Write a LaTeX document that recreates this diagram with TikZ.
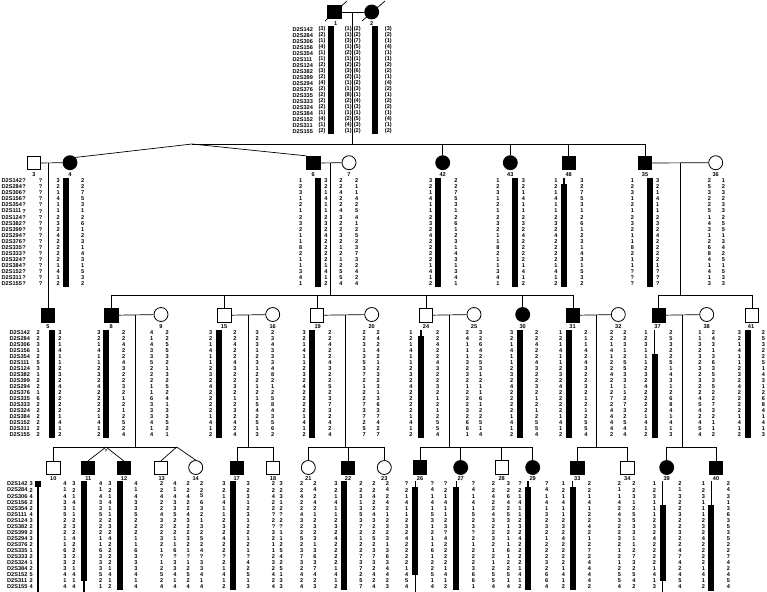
\documentclass[tikz,border=0pt]{standalone}
\usepackage{fontspec}
\setmainfont{Liberation Sans}
\tikzset{
 dat/.style={font=\bfseries\fontsize{5.6}{5.6}\selectfont, inner sep=0pt},
 mk/.style={dat, anchor=west},
 lab/.style={dat},
 sym/.style={draw, line width=0.8pt, inner sep=0pt, fill=white},
 sq/.style={sym, rectangle, minimum size=13.5pt},
 ci/.style={sym, circle, minimum size=14pt},
 aff/.style={fill=black},
 ln/.style={line width=0.7pt},
 thn/.style={line width=1.5pt},
}
\newcommand\Mcol[3]{\foreach \v [count=\i] in {D2S142,D2S284,D2S306,D2S156,D2S354,D2S111,D2S124,D2S382,D2S399,D2S294,D2S376,D2S335,D2S333,D2S324,D2S384,D2S152,D2S311,D2S155}{\node[mk] (#1-\i) at (#2,{#3+(\i-1)*\rs}) {\v};}}
\newcommand\Hcol[4]{\foreach \v [count=\i] in {#4}{\node[dat] (#1-\i) at (#2,{#3+(\i-1)*\rs}) {\v};}}
\newcommand\Pcol[4]{\foreach \v [count=\i] in {#4}{\node[dat] (#1-\i) at (#2,{#3+(\i-1)*\rs}) {(\v)};}}
\newcommand\Bk[4]{\fill ({#1-3},{#2+(#3-1)*\rs-3}) rectangle ({#1+3},{#2+(#4-1)*\rs+3});}
\newcommand\Bt[4]{\draw[thn] (#1,{#2+(#3-1)*\rs-3}) -- (#1,{#2+(#4-1)*\rs+3});}
\newcommand\Drop[3]{\coordinate (#1) at (#2); \draw[ln] (#1) -- (#3.north);}
\begin{document}
\begin{tikzpicture}[x=1pt,y=-1pt]
\useasboundingbox (0,0) rectangle (767,591);
% ================= Generation I =================
\def\rs{6}
\node[sq,aff] (n1) at (334.3,12) {};
\node[ci,aff] (n2) at (371.7,12) {};
\draw[ln] (325,21) -- (347,1);
\draw[ln] (362,21) -- (385,1);
\node[lab] (l1) at (335.7,23.6) {1};
\node[lab] (l2) at (371.7,23.6) {2};
\draw[ln] (n1) -- (n2);
\coordinate (d12) at (352.7,12);
\coordinate (s2m) at (352.7,144);
\draw[ln] (d12) -- (s2m);
\Mcol{m1}{292.5}{29.3}
\Pcol{f1a}{322}{29.3}{3,2,1,4,1,1,2,3,2,4,2,2,2,2,1,4,1,2}
\Bk{330.7}{29.3}{1}{18}
\Pcol{f1b}{348.2}{29.3}{1,1,3,1,2,1,2,3,2,1,1,8,2,1,1,2,4,1}
\Pcol{f2a}{357.3}{29.3}{2,2,7,5,3,1,2,6,1,2,3,1,4,3,1,5,3,2}
\Bk{375.3}{29.3}{1}{18}
\Pcol{f2b}{388.3}{29.3}{3,2,1,4,1,1,2,2,1,4,2,1,2,2,1,4,1,2}
% ================= Generation II =================
\def\rs{6.07}
\node[sq] (n3) at (34,163) {};
\node[ci,aff] (n4) at (70,162.7) {};
\node[sq,aff] (n6) at (313.3,163) {};
\node[ci] (n7) at (349,162.7) {};
\node[ci,aff] (n42) at (442.7,162.7) {};
\node[ci,aff] (n43) at (510.3,162.7) {};
\node[sq,aff] (n48) at (568.7,163) {};
\node[sq,aff] (n35) at (645,163) {};
\node[ci] (n36) at (715.7,162.7) {};
\foreach \n/\x in {3/34,4/70,6/313.3,7/349,42/442.7,43/510.3,48/568.7,35/645,36/715.7}
  {\node[lab] (l\n) at (\x,174.8) {\n};}
\coordinate (apx) at (192,144);
\coordinate (s2R) at (645,144);
\draw[ln] (apx) -- (s2R);
\draw[ln] (apx) -- (n4.north east);
\draw[ln] (apx) -- (n6.north west);
\Drop{v42}{442.7,144}{n42}
\Drop{v43}{510.3,144}{n43}
\Drop{v48}{568.7,144}{n48}
\Drop{v35}{645,144}{n35}
\draw[ln] (n3) -- (n4);
\draw[ln] (n6) -- (n7);
\draw[ln] (n35) -- (n36);
\Mcol{m2}{1.5}{180.7}
\Hcol{h3a}{24}{180.7}{?,?,?,?,?,?,?,?,?,?,?,?,?,?,?,?,?,?}
\Hcol{h3b}{40.7}{180.7}{?,?,?,?,?,?,?,?,?,?,?,?,?,?,?,?,?,?}
\Hcol{h4a}{58.3}{180.7}{3,2,1,4,1,1,2,3,2,4,2,2,2,2,1,4,1,2}
\Bk{65.8}{180.7}{1}{18}
\Hcol{h4b}{82.7}{180.7}{2,2,7,5,3,1,2,6,1,2,3,1,4,3,1,5,3,2}
\Hcol{h6a}{300.7}{180.7}{1,2,3,1,2,1,2,3,2,1,1,8,2,1,1,3,4,1}
\Bk{317.7}{180.7}{1}{18}
\Hcol{h6b}{326}{180.7}{3,2,1,4,1,1,2,3,2,4,2,2,2,2,1,4,1,2}
\Hcol{h7a}{341}{180.7}{2,2,4,2,2,4,3,2,2,3,2,1,2,1,2,5,5,4}
\Hcol{h7b}{356.7}{180.7}{2,1,1,4,2,5,4,1,2,5,2,3,7,3,2,4,2,4}
\Hcol{h42a}{430.7}{180.7}{3,2,1,4,1,1,2,3,2,4,2,2,2,2,1,4,1,2}
\Bk{438.3}{180.7}{1}{18}
\Hcol{h42b}{456}{180.7}{2,2,7,5,3,1,2,6,1,2,3,1,4,3,1,3,4,1}
\Hcol{h43a}{498}{180.7}{1,2,3,1,2,1,2,3,2,1,1,8,2,1,1,3,4,1}
\Bk{515.3}{180.7}{1}{18}
\Hcol{h43b}{523.3}{180.7}{3,2,1,4,1,1,2,3,2,4,2,2,2,2,1,4,1,2}
\Hcol{h48a}{556}{180.7}{1,2,1,4,1,1,2,3,2,4,2,2,2,2,1,4,1,2}
\Bt{564.2}{180.7}{1}{1}
\Bk{564.2}{180.7}{2}{18}
\Hcol{h48b}{582}{180.7}{3,2,7,5,3,1,2,6,1,2,3,1,4,3,1,5,3,2}
\Hcol{h35a}{632.3}{180.7}{1,2,3,1,2,1,2,3,2,1,1,8,2,1,1,?,?,?}
\Bk{649.7}{180.7}{1}{18}
\Hcol{h35b}{657.7}{180.7}{3,2,1,4,1,1,2,3,2,4,2,2,2,2,1,?,?,?}
\Hcol{h36a}{709.3}{180.7}{2,5,3,2,2,5,1,4,3,1,2,6,8,4,1,4,1,3}
\Hcol{h36b}{723.3}{180.7}{1,2,3,2,3,3,2,5,5,1,3,4,2,5,1,5,3,3}
% ================= Generation III =================
\def\rs{5.98}
\node[sq,aff] (n5) at (48,315.3) {};
\node[sq,aff] (n8) at (111.3,315.3) {};
\node[ci] (n9) at (161,314.5) {};
\node[sq] (n15) at (224.5,315.3) {};
\node[ci] (n16) at (272.7,314.5) {};
\node[sq] (n19) at (317,315.3) {};
\node[ci] (n20) at (371.7,314.5) {};
\node[sq] (n24) at (426,315.3) {};
\node[ci] (n25) at (474,314.5) {};
\node[ci,aff] (n30) at (522.7,314.5) {};
\node[sq,aff] (n31) at (573,315.3) {};
\node[ci] (n32) at (618.3,314.5) {};
\node[sq,aff] (n37) at (658.7,315.3) {};
\node[ci] (n38) at (706.7,314.5) {};
\node[sq] (n41) at (752,315.3) {};
\foreach \n/\x in {5/48,8/111.3,9/161,15/224,16/272.7,19/317.7,20/371.7,24/426,25/474,30/522.7,31/572.5,32/618.3,37/657.5,38/706.7,41/751}
  {\node[lab] (l\n) at (\x,326.5) {\n};}
\coordinate (d34) at (48,163);
\draw[ln] (d34) -- (n5.north);
\coordinate (d67) at (330.7,163);
\coordinate (s3m) at (330.7,295);
\draw[ln] (d67) -- (s3m);
\coordinate (s3L) at (111.3,295);
\coordinate (s3R) at (573,295);
\draw[ln] (s3L) -- (s3R);
\draw[ln] (s3L) -- (n8.north);
\Drop{v15}{224.5,295}{n15}
\Drop{v19}{317,295}{n19}
\Drop{v24}{426,295}{n24}
\Drop{v30}{522.7,295}{n30}
\draw[ln] (s3R) -- (n31.north);
\coordinate (d3536) at (680.7,163);
\coordinate (s4m) at (680.7,295);
\draw[ln] (d3536) -- (s4m);
\coordinate (s4L) at (658.7,295);
\coordinate (s4R) at (752,295);
\draw[ln] (s4L) -- (s4R);
\draw[ln] (s4L) -- (n37.north);
\draw[ln] (s4R) -- (n41.north);
\draw[ln] (n8) -- (n9);
\draw[ln] (n15) -- (n16);
\draw[ln] (n19) -- (n20);
\draw[ln] (n24) -- (n25);
\draw[ln] (n31) -- (n32);
\draw[ln] (n37) -- (n38);
\Mcol{m3}{9.5}{333}
\Hcol{h5a}{38.3}{333}{2,2,3,1,2,5,3,1,2,2,1,6,2,2,2,2,2,2}
\Bk{52.3}{333}{1}{18}
\Hcol{h5b}{60}{333}{3,2,1,4,1,1,2,3,2,4,2,2,2,2,1,4,1,2}
\Hcol{h8a}{99}{333}{3,2,1,4,1,1,2,3,2,4,2,2,2,2,1,4,1,2}
\Bk{106.2}{333}{1}{18}
\Hcol{h8b}{123.7}{333}{2,2,4,2,2,4,3,2,2,3,2,1,2,1,2,5,2,4}
\Hcol{h9a}{151.7}{333}{4,1,4,3,3,5,2,2,2,1,1,6,3,3,3,4,1,4}
\Hcol{h9b}{167.3}{333}{2,2,5,5,3,2,1,3,2,5,2,4,1,3,3,5,2,1}
\Hcol{h15a}{210.7}{333}{3,2,1,4,1,1,2,3,2,4,2,2,2,2,1,4,1,2}
\Bk{218.5}{333}{1}{18}
\Hcol{h15b}{235}{333}{2,2,4,2,2,4,3,2,2,3,2,1,2,3,2,4,2,4}
\Hcol{h16a}{257.3}{333}{3,2,3,1,2,3,1,2,2,1,2,1,5,4,2,5,1,3}
\Hcol{h16b}{272.7}{333}{2,3,4,3,3,3,4,8,2,1,2,5,8,4,3,5,6,2}
\Hcol{h19a}{304.3}{333}{3,2,1,4,1,1,2,3,2,4,2,2,2,2,1,4,1,2}
\Bk{312.2}{333}{1}{18}
\Hcol{h19b}{330}{333}{2,2,4,2,2,4,3,2,2,5,2,3,7,3,2,4,2,4}
\Hcol{h20a}{364.3}{333}{2,2,3,1,3,5,3,7,2,1,2,2,7,3,7,2,5,7}
\Hcol{h20b}{378.3}{333}{2,4,2,4,2,1,2,3,2,3,1,3,6,3,7,4,2,7}
\Hcol{h24a}{411}{333}{1,2,1,4,1,1,2,3,2,4,2,2,2,2,1,4,1,2}
\Bt{421.2}{333}{1}{1}
\Bk{421.2}{333}{2}{18}
\Hcol{h24b}{437.7}{333}{2,2,4,2,2,4,3,2,2,3,2,1,2,1,2,5,5,4}
\Hcol{h25a}{467.3}{333}{2,4,1,1,1,3,2,3,2,1,2,2,2,3,2,6,6,1}
\Hcol{h25b}{480.7}{333}{3,2,6,4,2,5,3,1,2,1,1,6,1,2,2,5,1,4}
\Hcol{h30a}{511.7}{333}{3,2,1,4,1,1,2,3,2,4,2,2,2,2,1,4,1,2}
\Bk{519.5}{333}{1}{18}
\Hcol{h30b}{536.7}{333}{2,2,4,2,2,4,3,2,2,3,2,1,2,1,2,5,5,4}
\Hcol{h31a}{560.7}{333}{1,2,1,4,1,1,2,3,2,4,2,2,2,2,1,4,1,2}
\Bk{568.5}{333}{1}{18}
\Hcol{h31b}{586}{333}{2,1,1,4,2,4,3,2,2,3,2,1,2,1,2,5,5,4}
\Hcol{h32a}{611.7}{333}{2,2,1,4,1,2,2,4,2,1,2,7,2,4,4,4,4,2}
\Hcol{h32b}{625}{333}{2,2,3,1,2,5,5,3,3,1,1,2,7,3,2,5,4,4}
\Hcol{h37a}{646}{333}{1,2,3,1,1,1,2,3,2,4,2,2,2,2,1,4,1,2}
\Bt{654.5}{333}{1}{4}
\Bk{654.5}{333}{5}{18}
\Hcol{h37b}{671}{333}{2,5,3,2,2,5,1,4,3,1,2,6,8,4,1,4,1,3}
\Hcol{h38a}{700}{333}{1,1,3,2,3,2,3,2,3,2,2,4,5,4,2,4,5,4}
\Hcol{h38b}{713.3}{333}{2,4,3,1,3,6,3,5,3,5,2,2,7,3,2,1,1,2}
\Hcol{h41a}{739.3}{333}{3,2,1,4,1,1,2,3,2,4,2,2,2,2,1,4,1,2}
\Bk{747.8}{333}{1}{18}
\Hcol{h41b}{763.3}{333}{2,5,3,2,2,5,1,4,3,1,2,6,8,4,1,4,1,3}
% ================= Generation IV =================
\def\rs{6.04}
\node[sq] (n10) at (53.3,468) {};
\node[sq,aff] (n11) at (88,468) {};
\node[sq,aff] (n12) at (123.7,468) {};
\node[sq] (n13) at (161,468) {};
\node[ci] (n14) at (195.7,467.5) {};
\node[sq,aff] (n17) at (237,468) {};
\node[sq] (n18) at (273,468) {};
\node[ci] (n21) at (308.3,467.5) {};
\node[sq,aff] (n22) at (348,468) {};
\node[ci] (n23) at (384.3,467.5) {};
\node[sq,aff] (n26) at (420,467.5) {};
\node[ci,aff] (n27) at (460.7,467.5) {};
\node[sq] (n28) at (501.7,467.5) {};
\node[ci,aff] (n29) at (532.7,467.5) {};
\node[sq,aff] (n33) at (577.3,468) {};
\node[sq] (n34) at (627.3,468) {};
\node[ci,aff] (n39) at (666.7,467.5) {};
\node[sq,aff] (n40) at (716,468) {};
\foreach \n/\x in {10/53.3,11/88.3,12/124,13/161.7,14/195.7,17/236.7,18/273,21/308.3,22/348,23/384.3,26/420,27/460.7,28/501.7,29/532.7,33/577.3,34/627.3,39/666.7,40/716}
  {\node[lab] (l\n) at (\x,478.3) {\n};}
% sibship 8-9
\coordinate (d89) at (135.7,315.3);
\coordinate (s5m) at (135.7,447);
\draw[ln] (d89) -- (s5m);
\coordinate (s5L) at (53.3,447);
\coordinate (tw1) at (106,447);
\coordinate (tw2) at (176.7,447);
\draw[ln] (s5L) -- (tw2);
\draw[ln] (s5L) -- (n10.north);
\draw[ln] (tw1) -- (n11.north);
\draw[ln] (tw1) -- (n12.north);
\draw[ln] (tw2) -- (n13.north);
\draw[ln] (tw2) -- (n14.north);
\node[dat, font=\bfseries\fontsize{4.5}{4.5}\selectfont] (twq) at (106,450.8) {?};
% sibship 15-16
\coordinate (d1516) at (248.3,315.3);
\coordinate (s6m) at (248.3,447);
\draw[ln] (d1516) -- (s6m);
\coordinate (s6L) at (237,447);
\coordinate (s6R) at (273,447);
\draw[ln] (s6L) -- (s6R);
\draw[ln] (s6L) -- (n17.north);
\draw[ln] (s6R) -- (n18.north);
% sibship 19-20
\coordinate (d1920) at (345,315.3);
\coordinate (s7m) at (345,447);
\draw[ln] (d1920) -- (s7m);
\coordinate (s7L) at (308.3,447);
\coordinate (s7R) at (384.3,447);
\draw[ln] (s7L) -- (s7R);
\draw[ln] (s7L) -- (n21.north);
\Drop{v22}{348,447}{n22}
\draw[ln] (s7R) -- (n23.north);
% sibship 24-25
\coordinate (d2425) at (449.3,315.3);
\coordinate (s8m) at (449.3,447);
\draw[ln] (d2425) -- (s8m);
\coordinate (s8L) at (420,447);
\coordinate (s8R) at (532.7,447);
\draw[ln] (s8L) -- (s8R);
\draw[ln] (s8L) -- (n26.north);
\Drop{v27}{460.7,447}{n27}
\Drop{v28}{501.7,447}{n28}
\draw[ln] (s8R) -- (n29.north);
% sibship 31-32
\coordinate (d3132) at (596.7,315.3);
\coordinate (s9m) at (596.7,447);
\draw[ln] (d3132) -- (s9m);
\coordinate (s9L) at (577.3,447);
\coordinate (s9R) at (627.3,447);
\draw[ln] (s9L) -- (s9R);
\draw[ln] (s9L) -- (n33.north);
\draw[ln] (s9R) -- (n34.north);
% sibship 37-38
\coordinate (d3738) at (682.7,315.3);
\coordinate (s10m) at (682.7,447);
\draw[ln] (d3738) -- (s10m);
\coordinate (s10L) at (666.7,447);
\coordinate (s10R) at (716,447);
\draw[ln] (s10L) -- (s10R);
\draw[ln] (s10L) -- (n39.north);
\draw[ln] (s10R) -- (n40.north);
% haplotypes IV
\Mcol{m4}{7}{484}
\Hcol{h10a}{31.3}{484}{3,2,4,2,2,4,3,2,2,3,2,1,2,1,2,5,2,4}
\Bt{37.8}{484}{1}{18.6}
\Bk{37.8}{484}{1}{1}
\Hcol{h10b}{65}{484}{4,1,4,3,3,5,2,2,2,1,1,6,3,3,3,4,1,4}
\Hcol{h11a}{74}{484}{3,2,1,4,1,1,2,3,2,4,2,2,2,2,1,4,1,4}
\Bt{83.8}{484}{1}{18.7}
\Bk{83.8}{484}{1}{16.5}
\Hcol{h11b}{100.7}{484}{4,1,4,3,3,5,2,2,2,1,1,6,3,3,3,5,2,1}
\Hcol{h12a}{110}{484}{3,2,1,4,1,1,2,3,2,4,2,2,2,2,1,4,1,2}
\Bk{119.5}{484}{1}{18}
\Hcol{h12b}{136}{484}{4,1,4,3,3,5,2,2,2,1,1,6,3,3,3,4,1,4}
\Hcol{h13a}{161.7}{484}{2,2,4,2,2,4,3,2,2,3,2,1,?,1,2,5,2,4}
\Hcol{h13b}{175}{484}{4,1,4,3,3,5,2,2,2,1,1,6,?,3,3,4,1,4}
\Hcol{h14a}{188.3}{484}{2,2,4,2,2,4,3,2,2,3,2,1,?,1,2,5,2,4}
\Hcol{h14b}{201.7}{484}{2,2,5,6,3,2,1,3,2,5,2,4,?,3,3,4,1,4}
\Hcol{h17a}{224}{484}{3,2,1,4,1,1,2,3,2,4,2,2,?,2,1,4,1,2}
\Bk{232.8}{484}{1}{18}
\Hcol{h17b}{248.3}{484}{3,2,3,1,2,3,1,2,2,1,2,1,?,4,2,5,1,3}
\Hcol{h18a}{273.5}{484}{2,2,4,2,2,?,2,?,3,2,1,1,2,3,2,4,2,4}
\Hcol{h18b}{281.2}{484}{3,2,3,1,2,?,2,?,1,1,2,5,4,2,5,1,3,3}
\Hcol{h21a}{301.7}{484}{2,2,4,2,2,4,3,2,2,5,2,3,7,3,2,4,2,4}
\Hcol{h21b}{315}{484}{2,4,2,4,2,1,2,3,2,3,1,3,6,3,7,4,2,3}
\Hcol{h22a}{336}{484}{3,2,1,4,1,1,2,3,2,4,2,2,2,2,1,4,1,2}
\Bk{343.7}{484}{1}{18}
\Hcol{h22b}{361}{484}{2,2,3,1,3,5,3,7,2,1,2,2,7,3,7,2,5,7}
\Hcol{h23a}{374}{484}{2,2,4,2,2,4,3,2,2,5,2,3,7,3,2,4,2,4}
\Hcol{h23b}{387.3}{484}{2,4,2,4,2,1,2,3,2,3,1,3,6,3,4,4,2,3}
\Hcol{h26a}{406.7}{484}{?,2,1,4,1,1,2,3,2,4,2,2,2,2,1,4,5,4}
\Bt{415.3}{484}{1}{18.7}
\Bk{415.3}{484}{2}{15.5}
\Hcol{h26b}{432.3}{484}{?,4,1,4,1,5,3,1,2,1,1,6,1,2,2,5,1,4}
\Hcol{h27a}{445.7}{484}{?,2,1,4,1,1,2,3,?,4,2,2,2,2,1,4,1,2}
\Bt{456.3}{484}{1}{1}
\Bk{456.3}{484}{2}{18}
\Hcol{h27b}{473.3}{484}{?,4,1,4,1,5,2,3,?,2,1,2,2,2,3,6,6,1}
\Hcol{h28a}{493.3}{484}{2,2,4,2,2,4,3,2,2,3,2,1,2,1,2,5,5,4}
\Hcol{h28b}{508.3}{484}{3,2,6,4,2,5,3,1,2,1,1,6,1,2,2,5,1,4}
\Hcol{h29a}{520}{484}{?,2,1,4,1,1,2,3,2,4,2,2,2,2,1,4,1,2}
\Bt{527.8}{484}{1}{1}
\Bk{527.8}{484}{2}{18}
\Hcol{h29b}{546.7}{484}{?,4,1,4,1,3,2,3,2,1,2,2,2,3,2,6,6,4}
\Hcol{h33a}{563.3}{484}{1,2,1,4,1,1,2,3,2,4,2,2,2,2,1,4,1,2}
\Bt{572.7}{484}{1}{1}
\Bk{572.7}{484}{2}{18}
\Hcol{h33b}{589.3}{484}{2,2,1,4,1,2,2,4,2,1,2,7,2,4,4,4,4,2}
\Hcol{h34a}{619.3}{484}{2,1,1,4,2,4,3,2,2,3,2,1,2,1,2,5,5,4}
\Hcol{h34b}{634}{484}{2,2,3,1,2,5,5,3,3,1,1,2,7,3,2,5,4,2}
\Hcol{h39a}{654.3}{484}{1,2,3,1,1,1,2,3,2,4,2,2,2,2,1,4,1,3}
\Bt{662.7}{484}{1}{18.8}
\Bk{662.7}{484}{5}{16.6}
\Hcol{h39b}{680}{484}{2,1,3,2,2,3,2,2,3,2,2,4,7,4,2,4,5,4}
\Hcol{h40a}{703.3}{484}{1,2,3,1,1,1,2,3,2,4,2,2,2,2,1,4,1,2}
\Bt{711.3}{484}{1}{4}
\Bk{711.3}{484}{5}{18.2}
\Hcol{h40b}{728.3}{484}{2,4,3,1,3,6,3,5,3,5,2,2,7,4,2,4,5,4}
\end{tikzpicture}
\end{document}
